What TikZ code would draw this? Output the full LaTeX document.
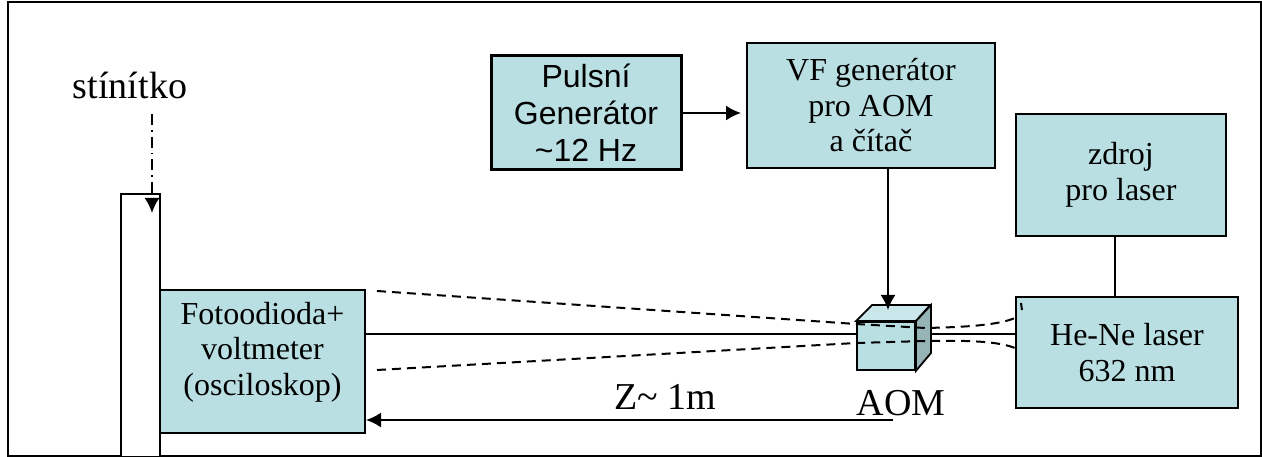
\documentclass[tikz,border=0pt]{standalone}
\usepackage{fontspec}
\setmainfont{Liberation Serif}
\setsansfont{Liberation Sans}
\usepackage{xcolor}
\usepackage{tikz}
\usetikzlibrary{arrows.meta}
\definecolor{boxblue}{HTML}{B9DFE3}
\definecolor{cubetop}{HTML}{C9E6EA}
\definecolor{cubeside}{HTML}{96B3B6}

\begin{document}
\begin{tikzpicture}[
    x=1pt, y=-1pt,
    unit/.style={draw, line width=2pt, fill=boxblue, inner sep=0pt, align=center, font=\fontsize{32}{35.5}\selectfont, minimum width=#1},
    label/.style={inner sep=0pt, font=\fontsize{38}{42}\selectfont},
    arr/.style={-{Latex[length=15pt,width=15pt]}, line width=1.8pt},
    beam/.style={line width=1.8pt},
    ray/.style={line width=2pt, dash pattern=on 9pt off 6pt}
]
\useasboundingbox (0,0) rectangle (1262,457);
\node[draw, line width=1.8pt, minimum width=1253pt, minimum height=454pt, inner sep=0pt] (frame) at (634.5,229) {};

% screen
\node[draw, line width=2pt, fill=white, minimum width=39pt, minimum height=263pt, inner sep=0pt] (screen) at (140.5,325.5) {};
\node[label] (screenlabel) at (130,85) {stínítko};

% instruments
\node[unit=190pt, minimum height=114pt, line width=3pt, font=\sffamily\fontsize{32}{37}\selectfont] (pulse) at (586,113) {Pulsní\\Generátor\\\textasciitilde12 Hz};
\node[unit=248pt, minimum height=125pt] (vf) at (871,105.5) {VF generátor\\pro AOM\\a čítač};
\node[unit=210pt, minimum height=122pt] (source) at (1121,175) {zdroj\\pro laser};
\node[unit=222pt, minimum height=111pt] (laser) at (1127,352.5) {He-Ne laser\\632 nm};
\node[unit=205pt, minimum height=143pt] (detector) at (262.5,361.5) {Fotoodioda+\\voltmeter\\(osciloskop)\\[-10pt]\mbox{}};

% AOM cube
\node[draw, line width=1.8pt, fill=boxblue, minimum width=58pt, minimum height=48pt, inner sep=0pt] (aom) at (886,346) {};
\draw[line width=1.8pt, fill=cubetop] (aom.north west) -- ++(16,-16) -- ++(58,0) -- (aom.north east) -- cycle;
\draw[line width=1.8pt, fill=cubeside] (aom.north east) -- ++(15,-16) -- ++(0,48) -- (aom.south east) -- cycle;
\node[label] (aomlabel) at (901,403) {AOM};
\node[label] (distance) at (665,397) {Z\textasciitilde{} 1m};

\coordinate (screentip) at (152,213);
\coordinate (screentail) at (152,114);
\coordinate (aomtip) at (888,310);
\coordinate (aomback) at (930,334);
\coordinate (rulerstart) at (893,420);
\coordinate (rulerend) at (detector.east |- rulerstart);
\coordinate (beamstart) at (detector.east |- aomback);
\coordinate (beamend) at (aom.west |- aomback);
\coordinate (link) at (1115,0);

\draw[arr, shorten >=5pt] (pulse.east) -- (pulse.east -| vf.west);
\draw[arr] (vf.south -| aomtip) -- (aomtip);
\draw[line width=1.8pt] (source.south -| link) -- (laser.north -| link);
\draw[arr, dash pattern=on 11pt off 5pt on 1.6pt off 5pt] (screentail) -- (screentip);
\draw[arr] (rulerstart) -- (rulerend);

% beam
\draw[beam] (beamstart) -- (beamend);
\draw[beam] (aomback) -- (laser.west |- aomback);

% rays
\coordinate (uppertail) at (377,291);
\coordinate (upperend) at (1019,316);
\coordinate (lowertail) at (377,370);
\coordinate (lowerend) at (1019,350);
\draw[ray] (uppertail) -- (856,324) -- (925,328) .. controls (975,327) and (1005,324) .. (upperend);
\draw[ray] (lowertail) -- (856,343) -- (925,341) .. controls (975,340) and (1005,342) .. (lowerend);
\draw[line width=2pt] (1021,303) -- (1022,310);
\end{tikzpicture}
\end{document}
